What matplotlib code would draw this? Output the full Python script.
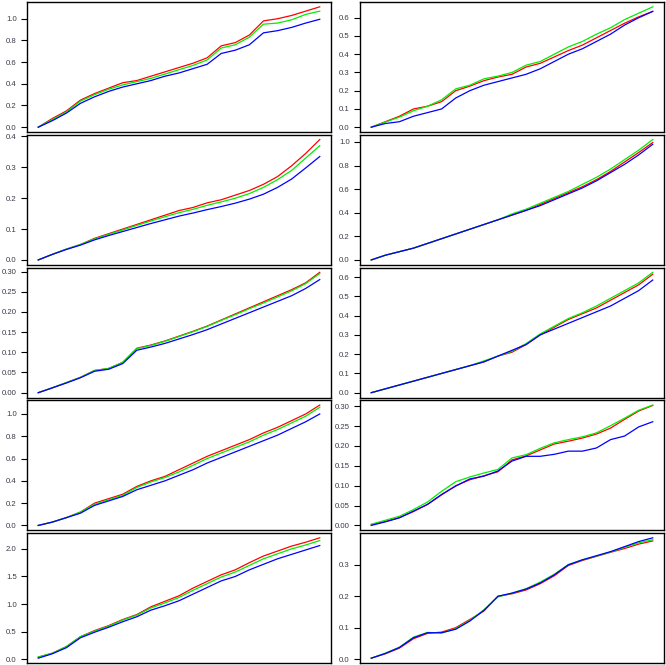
import matplotlib
matplotlib.use("Agg")
import matplotlib.pyplot as plt
import numpy as np

plt.rcParams['font.family'] = ['Liberation Sans', 'DejaVu Sans']

# x positions (fraction of the series), shared by all panels
x_frac = [0.00, 0.05, 0.10, 0.15, 0.20, 0.25, 0.30, 0.35, 0.40, 0.45, 0.50,
          0.55, 0.60, 0.65, 0.70, 0.75, 0.80, 0.85, 0.90, 0.95, 1.00]

# Left column
p1_red   = [0, 0.08, 0.15, 0.25, 0.31, 0.36, 0.41, 0.43, 0.47, 0.51, 0.55, 0.59, 0.64, 0.75, 0.78, 0.85, 0.98, 1.00, 1.03, 1.07, 1.11]
p1_green = [0, 0.07, 0.14, 0.24, 0.30, 0.35, 0.39, 0.42, 0.45, 0.49, 0.53, 0.57, 0.62, 0.73, 0.76, 0.83, 0.95, 0.96, 0.99, 1.04, 1.07]
p1_blue  = [0, 0.06, 0.13, 0.22, 0.28, 0.33, 0.37, 0.40, 0.43, 0.47, 0.50, 0.54, 0.58, 0.68, 0.71, 0.76, 0.87, 0.89, 0.92, 0.96, 0.995]
p1_ticks = [0.0, 0.2, 0.4, 0.6, 0.8, 1.0]
p1_labels = ["0.0", "0.2", "0.4", "0.6", "0.8", "1.0"]

p2_red   = [0, 0.018, 0.035, 0.05, 0.07, 0.085, 0.10, 0.115, 0.13, 0.145, 0.16, 0.17, 0.185, 0.195, 0.21, 0.225, 0.245, 0.27, 0.305, 0.345, 0.39]
p2_green = [0, 0.018, 0.035, 0.05, 0.068, 0.083, 0.097, 0.112, 0.126, 0.14, 0.153, 0.164, 0.177, 0.188, 0.20, 0.215, 0.235, 0.26, 0.29, 0.33, 0.37]
p2_blue  = [0, 0.018, 0.034, 0.048, 0.065, 0.079, 0.092, 0.105, 0.118, 0.13, 0.142, 0.152, 0.163, 0.173, 0.184, 0.197, 0.213, 0.235, 0.262, 0.298, 0.335]
p2_ticks = [0.0, 0.1, 0.2, 0.3, 0.4]
p2_labels = ["0.0", "0.1", "0.2", "0.3", "0.4"]

p3_red   = [0, 0.012, 0.025, 0.038, 0.055, 0.06, 0.075, 0.11, 0.118, 0.128, 0.14, 0.152, 0.165, 0.18, 0.195, 0.21, 0.225, 0.24, 0.255, 0.272, 0.298]
p3_green = [0, 0.012, 0.025, 0.038, 0.055, 0.06, 0.075, 0.109, 0.117, 0.127, 0.139, 0.151, 0.164, 0.179, 0.193, 0.208, 0.222, 0.237, 0.252, 0.27, 0.295]
p3_blue  = [0, 0.012, 0.024, 0.037, 0.053, 0.058, 0.072, 0.105, 0.113, 0.122, 0.133, 0.144, 0.156, 0.17, 0.184, 0.198, 0.212, 0.226, 0.24, 0.258, 0.28]
p3_ticks = [0.0, 0.05, 0.10, 0.15, 0.20, 0.25, 0.30]
p3_labels = ["0.00", "0.05", "0.10", "0.15", "0.20", "0.25", "0.30"]

p4_red   = [0, 0.03, 0.07, 0.12, 0.20, 0.24, 0.28, 0.35, 0.40, 0.44, 0.50, 0.56, 0.62, 0.67, 0.72, 0.77, 0.83, 0.88, 0.94, 1.00, 1.08]
p4_green = [0, 0.03, 0.07, 0.12, 0.19, 0.23, 0.27, 0.34, 0.39, 0.43, 0.48, 0.54, 0.60, 0.65, 0.70, 0.75, 0.81, 0.86, 0.92, 0.98, 1.06]
p4_blue  = [0, 0.03, 0.07, 0.11, 0.18, 0.22, 0.26, 0.32, 0.36, 0.40, 0.45, 0.50, 0.56, 0.61, 0.66, 0.71, 0.76, 0.81, 0.87, 0.93, 1.00]
p4_ticks = [0.0, 0.2, 0.4, 0.6, 0.8, 1.0]
p4_labels = ["0.0", "0.2", "0.4", "0.6", "0.8", "1.0"]

p5_red   = [0.04, 0.11, 0.23, 0.41, 0.52, 0.61, 0.72, 0.81, 0.95, 1.05, 1.15, 1.29, 1.41, 1.53, 1.62, 1.75, 1.87, 1.96, 2.05, 2.12, 2.20]
p5_green = [0.04, 0.11, 0.23, 0.41, 0.51, 0.60, 0.71, 0.80, 0.93, 1.02, 1.12, 1.25, 1.37, 1.49, 1.58, 1.70, 1.82, 1.91, 2.00, 2.07, 2.15]
p5_blue  = [0.02, 0.10, 0.21, 0.39, 0.49, 0.58, 0.68, 0.77, 0.89, 0.97, 1.06, 1.18, 1.30, 1.42, 1.50, 1.62, 1.72, 1.82, 1.90, 1.98, 2.06]
p5_ticks = [0.0, 0.5, 1.0, 1.5, 2.0]
p5_labels = ["0.0", "0.5", "1.0", "1.5", "2.0"]

# Right column
p6_red   = [0, 0.03, 0.06, 0.10, 0.115, 0.14, 0.20, 0.225, 0.255, 0.275, 0.29, 0.33, 0.35, 0.385, 0.42, 0.45, 0.49, 0.53, 0.57, 0.605, 0.635]
p6_green = [0, 0.028, 0.055, 0.09, 0.115, 0.15, 0.21, 0.23, 0.265, 0.28, 0.30, 0.34, 0.36, 0.40, 0.44, 0.47, 0.51, 0.545, 0.59, 0.625, 0.66]
p6_blue  = [0, 0.02, 0.03, 0.06, 0.08, 0.10, 0.16, 0.20, 0.23, 0.25, 0.27, 0.29, 0.32, 0.36, 0.40, 0.43, 0.47, 0.51, 0.56, 0.60, 0.635]
p6_ticks = [0.0, 0.1, 0.2, 0.3, 0.4, 0.5, 0.6]
p6_labels = ["0.0", "0.1", "0.2", "0.3", "0.4", "0.5", "0.6"]

p7_red   = [0, 0.04, 0.07, 0.10, 0.14, 0.18, 0.22, 0.26, 0.30, 0.34, 0.38, 0.42, 0.47, 0.52, 0.57, 0.62, 0.68, 0.75, 0.83, 0.91, 0.995]
p7_green = [0, 0.04, 0.07, 0.10, 0.14, 0.18, 0.22, 0.26, 0.30, 0.34, 0.39, 0.43, 0.48, 0.53, 0.58, 0.64, 0.70, 0.77, 0.85, 0.93, 1.02]
p7_blue  = [0, 0.04, 0.07, 0.10, 0.14, 0.18, 0.22, 0.26, 0.30, 0.34, 0.38, 0.42, 0.46, 0.51, 0.56, 0.61, 0.67, 0.74, 0.81, 0.89, 0.98]
p7_ticks = [0.0, 0.2, 0.4, 0.6, 0.8, 1.0]
p7_labels = ["0.0", "0.2", "0.4", "0.6", "0.8", "1.0"]

p8_red   = [0, 0.02, 0.04, 0.06, 0.08, 0.10, 0.12, 0.14, 0.16, 0.19, 0.21, 0.25, 0.30, 0.34, 0.38, 0.41, 0.44, 0.48, 0.52, 0.56, 0.615]
p8_green = [0, 0.02, 0.04, 0.06, 0.08, 0.10, 0.12, 0.14, 0.165, 0.19, 0.215, 0.255, 0.305, 0.345, 0.385, 0.415, 0.45, 0.49, 0.53, 0.57, 0.625]
p8_blue  = [0, 0.02, 0.04, 0.06, 0.08, 0.10, 0.12, 0.14, 0.16, 0.19, 0.22, 0.25, 0.30, 0.33, 0.36, 0.39, 0.42, 0.45, 0.49, 0.53, 0.585]
p8_ticks = [0.0, 0.1, 0.2, 0.3, 0.4, 0.5, 0.6]
p8_labels = ["0.0", "0.1", "0.2", "0.3", "0.4", "0.5", "0.6"]

p9_red   = [0.002, 0.01, 0.02, 0.035, 0.053, 0.077, 0.10, 0.115, 0.125, 0.135, 0.165, 0.175, 0.19, 0.205, 0.212, 0.22, 0.23, 0.245, 0.267, 0.288, 0.302]
p9_green = [0.003, 0.013, 0.023, 0.04, 0.059, 0.086, 0.11, 0.122, 0.132, 0.141, 0.17, 0.178, 0.194, 0.208, 0.216, 0.223, 0.233, 0.251, 0.27, 0.29, 0.303]
p9_blue  = [0, 0.009, 0.019, 0.036, 0.053, 0.078, 0.099, 0.117, 0.124, 0.137, 0.162, 0.174, 0.174, 0.179, 0.187, 0.187, 0.195, 0.216, 0.225, 0.248, 0.261]
p9_ticks = [0.0, 0.05, 0.10, 0.15, 0.20, 0.25, 0.30]
p9_labels = ["0.00", "0.05", "0.10", "0.15", "0.20", "0.25", "0.30"]

p10_red   = [0.003, 0.017, 0.035, 0.065, 0.082, 0.086, 0.10, 0.126, 0.153, 0.2, 0.208, 0.22, 0.24, 0.265, 0.298, 0.314, 0.327, 0.34, 0.352, 0.366, 0.376]
p10_green = [0.003, 0.019, 0.038, 0.07, 0.085, 0.083, 0.097, 0.123, 0.157, 0.198, 0.21, 0.224, 0.245, 0.27, 0.301, 0.316, 0.328, 0.341, 0.356, 0.37, 0.38]
p10_blue  = [0.003, 0.018, 0.037, 0.068, 0.084, 0.084, 0.095, 0.121, 0.155, 0.2, 0.21, 0.223, 0.242, 0.268, 0.30, 0.316, 0.329, 0.342, 0.358, 0.374, 0.386]
p10_ticks = [0.0, 0.1, 0.2, 0.3]
p10_labels = ["0.0", "0.1", "0.2", "0.3"]

panels = [
    (0, 0, p1_red, p1_green, p1_blue, p1_ticks, p1_labels),
    (1, 0, p2_red, p2_green, p2_blue, p2_ticks, p2_labels),
    (2, 0, p3_red, p3_green, p3_blue, p3_ticks, p3_labels),
    (3, 0, p4_red, p4_green, p4_blue, p4_ticks, p4_labels),
    (4, 0, p5_red, p5_green, p5_blue, p5_ticks, p5_labels),
    (0, 1, p6_red, p6_green, p6_blue, p6_ticks, p6_labels),
    (1, 1, p7_red, p7_green, p7_blue, p7_ticks, p7_labels),
    (2, 1, p8_red, p8_green, p8_blue, p8_ticks, p8_labels),
    (3, 1, p9_red, p9_green, p9_blue, p9_ticks, p9_labels),
    (4, 1, p10_red, p10_green, p10_blue, p10_ticks, p10_labels),
]

W, H = 666, 665
fig = plt.figure(figsize=(W / 100, H / 100), dpi=100)
fig.patch.set_facecolor('white')

col_left = [27, 360]
col_width = 304
row_top0 = 2
row_pitch = 132.75
row_height = 130

label_color = '#3a3a48'

for row, col, red, green, blue, ticks, labels in panels:
    top = row_top0 + row * row_pitch
    ax = fig.add_axes([col_left[col] / W, 1 - (top + row_height) / H,
                       col_width / W, row_height / H])
    ax.plot(x_frac, red, color='#ff0000', lw=0.9)
    ax.plot(x_frac, green, color='#00ee00', lw=0.9)
    ax.plot(x_frac, blue, color='#0000ff', lw=0.9)
    allv = np.concatenate([red, green, blue])
    lo, hi = allv.min(), allv.max()
    r = hi - lo
    ax.set_ylim(lo - 0.04 * r, hi + 0.04 * r)
    ax.set_xlim(-0.04, 1.04)
    ax.set_xticks([])
    ax.set_yticks(ticks)
    ax.set_yticklabels(labels)
    ax.tick_params(axis='y', length=4.3, width=0.8, pad=3, labelsize=5.6,
                   labelcolor=label_color, color='black')
    for s in ax.spines.values():
        s.set_linewidth(1.0)
        s.set_color('black')

fig.savefig('out.png', dpi=100, facecolor='white')
